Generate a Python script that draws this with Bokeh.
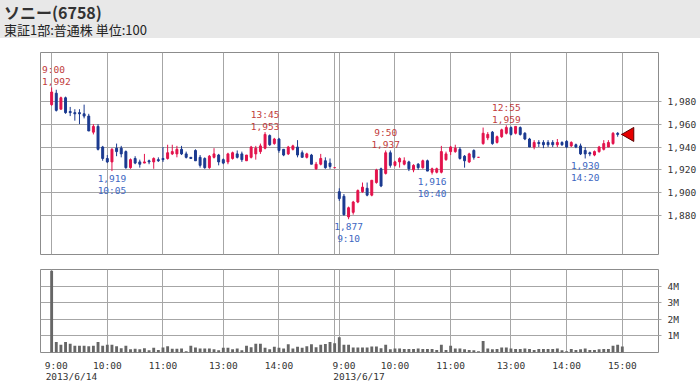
import math
from bokeh.plotting import figure
from bokeh.layouts import column
from bokeh.models import (Range1d, FixedTicker, NumeralTickFormatter, ColumnDataSource,
                          LabelSet, LinearAxis, Div)
from bokeh.core.properties import value
from bokeh.embed import file_html
from bokeh.resources import INLINE

# ---------------- data (5-minute bars, 2013/6/14 and 2013/6/17) ----------------
opens = [1977, 1987, 1973, 1983, 1971, 1970, 1970, 1969, 1967, 1953,
         1958, 1940, 1930, 1927, 1939, 1939, 1936, 1922, 1930, 1927,
         1926, 1928, 1927, 1929, 1930, 1930, 1934, 1934, 1938, 1934,
         1931, 1937, 1931, 1930, 1922, 1931, 1933, 1929, 1927, 1930,
         1934, 1934, 1928, 1931, 1934, 1936, 1939, 1950, 1943, 1947,
         1938, 1934, 1938, 1940, 1935, 1931, 1933, 1921, 1925, 1928,
         1926, 1922,
         1901, 1897, 1879, 1883, 1892, 1901, 1904, 1898, 1909, 1921,
         1917, 1935, 1924, 1927, 1925, 1927, 1920, 1925, 1922, 1928,
         1918, 1918, 1918, 1929, 1936, 1936, 1938, 1932, 1927, 1937,
         1931, 1943, 1948, 1953, 1944, 1949, 1952, 1957, 1952, 1957,
         1952, 1947, 1940, 1944, 1944, 1944, 1944, 1942, 1944, 1945,
         1941, 1942, 1941, 1937, 1935, 1933, 1936, 1938, 1940, 1943,
         1952, 1951]
highs = [1992, 1990, 1984, 1984, 1975, 1973, 1973, 1977, 1969, 1960,
         1960, 1941, 1933, 1939, 1943, 1941, 1937, 1930, 1932, 1929,
         1934, 1929, 1931, 1931, 1940, 1942, 1942, 1941, 1941, 1936,
         1931, 1938, 1933, 1931, 1933, 1939, 1934, 1930, 1935, 1936,
         1937, 1936, 1933, 1941, 1941, 1943, 1953, 1951, 1948, 1948,
         1938, 1941, 1942, 1946, 1937, 1935, 1934, 1927, 1934, 1931,
         1930, 1922,
         1904, 1899, 1888, 1893, 1903, 1909, 1909, 1911, 1921, 1922,
         1937, 1937, 1928, 1931, 1931, 1928, 1925, 1926, 1929, 1929,
         1922, 1922, 1941, 1936, 1941, 1942, 1940, 1933, 1935, 1938,
         1931, 1957, 1953, 1954, 1950, 1956, 1959, 1958, 1958, 1958,
         1953, 1948, 1946, 1946, 1946, 1946, 1946, 1947, 1945, 1946,
         1945, 1943, 1943, 1940, 1936, 1937, 1941, 1946, 1946, 1953,
         1953, 1951]
lows = [1976, 1971, 1973, 1969, 1967, 1963, 1960, 1965, 1954, 1951,
        1937, 1928, 1926, 1919, 1932, 1931, 1921, 1921, 1925, 1922,
        1926, 1925, 1921, 1927, 1927, 1929, 1933, 1931, 1933, 1930,
        1930, 1928, 1922, 1921, 1921, 1930, 1924, 1925, 1925, 1929,
        1930, 1927, 1928, 1930, 1929, 1934, 1938, 1941, 1942, 1935,
        1932, 1933, 1937, 1931, 1931, 1930, 1925, 1920, 1924, 1921,
        1921, 1922,
        1893, 1880, 1877, 1881, 1891, 1900, 1897, 1897, 1908, 1905,
        1916, 1922, 1923, 1922, 1924, 1919, 1918, 1920, 1921, 1919,
        1916, 1917, 1917, 1928, 1933, 1935, 1929, 1922, 1926, 1929,
        1931, 1942, 1946, 1942, 1943, 1948, 1951, 1950, 1951, 1950,
        1946, 1940, 1938, 1940, 1939, 1940, 1940, 1940, 1941, 1939,
        1940, 1939, 1933, 1930, 1932, 1932, 1935, 1937, 1940, 1942,
        1949, 1951]
closes = [1988, 1972, 1983, 1970, 1970, 1969, 1969, 1967, 1954, 1958,
          1938, 1930, 1927, 1938, 1936, 1934, 1922, 1929, 1926, 1925,
          1927, 1927, 1930, 1928, 1929, 1935, 1936, 1938, 1934, 1931,
          1930, 1928, 1924, 1922, 1932, 1934, 1927, 1926, 1934, 1935,
          1931, 1929, 1933, 1940, 1939, 1941, 1951, 1942, 1947, 1937,
          1933, 1940, 1941, 1933, 1931, 1934, 1925, 1925, 1930, 1922,
          1923, 1922,
          1895, 1881, 1887, 1892, 1902, 1905, 1898, 1911, 1920, 1906,
          1935, 1924, 1927, 1930, 1928, 1921, 1924, 1922, 1928, 1919,
          1921, 1921, 1936, 1934, 1940, 1939, 1930, 1928, 1934, 1931,
          1931, 1952, 1951, 1943, 1949, 1955, 1957, 1951, 1958, 1951,
          1947, 1940, 1944, 1943, 1942, 1942, 1942, 1944, 1942, 1940,
          1944, 1940, 1934, 1934, 1934, 1936, 1940, 1943, 1944, 1952,
          1951, 1951]
volume_m = [4.93, 0.64, 0.47, 0.64, 0.53, 0.41, 0.41, 0.41, 0.38, 0.41,
            0.64, 0.41, 0.47, 0.47, 0.38, 0.26, 0.41, 0.19, 0.23, 0.19,
            0.26, 0.13, 0.28, 0.15, 0.30, 0.38, 0.23, 0.23, 0.24, 0.08,
            0.41, 0.30, 0.24, 0.24, 0.24, 0.19, 0.13, 0.28, 0.28, 0.19,
            0.24, 0.13, 0.41, 0.32, 0.53, 0.53, 0.28, 0.19, 0.34, 0.28,
            0.24, 0.49, 0.24, 0.34, 0.28, 0.38, 0.49, 0.32, 0.47, 0.51,
            0.64, 0.55,
            0.92, 0.47, 0.47, 0.30, 0.30, 0.30, 0.30, 0.36, 0.36, 0.26,
            0.47, 0.19, 0.24, 0.24, 0.21, 0.21, 0.21, 0.24, 0.21, 0.21,
            0.21, 0.15, 0.47, 0.15, 0.41, 0.24, 0.24, 0.19, 0.15, 0.13,
            0.08, 0.70, 0.24, 0.19, 0.21, 0.30, 0.30, 0.24, 0.21, 0.21,
            0.24, 0.21, 0.15, 0.21, 0.21, 0.21, 0.21, 0.24, 0.13, 0.08,
            0.21, 0.15, 0.19, 0.24, 0.15, 0.15, 0.19, 0.21, 0.21, 0.41,
            0.47, 0.36]

# axis ticks (bar index of each hour mark) and their labels
hour_ticks = [0, 12, 24, 37, 49, 61, 62, 74, 86, 99, 111, 123]
time_labels = ["9:00", "10:00", "11:00", "13:00", "14:00", "",
               "9:00", "10:00", "11:00", "13:00", "14:00", "15:00"]
day_start_ticks = [0, 62]
date_labels = ["2013/6/14", "2013/6/17"]
price_ticks = [1880, 1900, 1920, 1940, 1960, 1980]
volume_ticks = [1, 2, 3, 4]
volume_tick_labels = ["1M", "2M", "3M", "4M"]

# swing high / low annotations: bar index, price, time, kind
ann_idx = [0, 13, 46, 64, 72, 82, 98, 115]
ann_price = [1992, 1919, 1953, 1877, 1937, 1916, 1959, 1930]
ann_time = ["9:00", "10:05", "13:45", "9:10", "9:50", "10:40", "12:55", "14:20"]
ann_kind = ["high", "low", "high", "low", "high", "low", "high", "low"]

title_text = "ソニー(6758)"
subtitle_text = "東証1部:普通株 単位:100"

# ---------------- styles ----------------
UP = "#e3134c"
DOWN = "#1b3a90"
GRID = "#a6a6a6"
OUTLINE = "#8c8c8c"
MONO = "DejaVu Sans Mono"
FS = "9.5px"
CHAR_W = 5.72          # advance of one mono character at FS
TXT = "#333333"
HEAD_BG = "#e8e8e8"
HI_TXT = "#bf3b3b"
LO_TXT = "#3d67c2"

FRAME_L, FRAME_W = 40, 618
xr = Range1d(-2.4, 130.8)
PX_PER_BAR = FRAME_W / (xr.end - xr.start)

idx = list(range(len(opens)))
colors = [UP if c >= o else DOWN for o, c in zip(opens, closes)]
src = ColumnDataSource(dict(
    x=idx, o=opens, h=highs, l=lows, c=closes,
    top=[max(o, c) for o, c in zip(opens, closes)],
    bot=[min(o, c) for o, c in zip(opens, closes)],
    col=colors, vol=volume_m))

# ---------------- header ----------------
head = Div(text=(
    f'<div style="padding-left:4px;color:#333;font-family:\'Noto Sans CJK JP\';">'
    f'<div style="font-size:16px;font-weight:bold;line-height:24px;height:21px;">{title_text}</div>'
    f'<div style="font-size:13px;line-height:17px;height:17px;color:#222;">{subtitle_text}</div></div>'),
    width=700, height=38, margin=(0, 0, 0, 0),
    styles={"background-color": HEAD_BG, "overflow": "hidden"})

# ---------------- price panel ----------------
main = figure(width=700, height=224, x_range=xr, y_range=Range1d(1846.2, 2022.5),
              output_backend="svg", toolbar_location=None, title=None,
              x_axis_location=None, y_axis_location="right",
              min_border_left=FRAME_L, min_border_right=42, min_border_top=14, min_border_bottom=8)
main.outline_line_color = OUTLINE
main.xgrid.ticker = FixedTicker(ticks=hour_ticks)
main.grid.grid_line_color = GRID
main.yaxis.ticker = FixedTicker(ticks=price_ticks)
main.yaxis.formatter = NumeralTickFormatter(format="0,0")
main.yaxis.axis_line_color = None
main.yaxis.major_tick_in = 0
main.yaxis.major_tick_out = 3
main.yaxis.major_tick_line_color = GRID
main.yaxis.minor_tick_line_color = None
main.yaxis.major_label_standoff = 6
main.yaxis.major_label_text_font = MONO
main.yaxis.major_label_text_font_size = FS
main.yaxis.major_label_text_color = TXT

main.segment(x0="x", y0="l", x1="x", y1="h", source=src, line_color="col", line_width=1)
main.vbar(x="x", width=0.42, top="top", bottom="bot", source=src,
          fill_color="col", line_color="col", line_width=1)

# last price marker
main.scatter(x=[idx[-1] + 1.6], y=[closes[-1]], marker="triangle", size=14, angle=math.pi / 2,
             fill_color="#e60000", line_color="#5a0000", line_width=1)

# swing annotations (nudged so that none is cut by the frame edge)
def pick(seq, kind):
    return [seq[k] for k in range(len(ann_idx)) if ann_kind[k] == kind]

def nudge(xs, texts):
    out = []
    for x, t in zip(xs, texts):
        left = FRAME_L + (x - xr.start) * PX_PER_BAR - len(t) * CHAR_W / 2
        out.append(max(0.0, FRAME_L + 1.5 - left))
    return out

for kind, color, off_p, off_t in (("high", HI_TXT, 6, 18), ("low", LO_TXT, -7, -19)):
    xs = pick(ann_idx, kind)
    ptxt = [f"{v:,}" for v in pick(ann_price, kind)]
    ttxt = pick(ann_time, kind)
    asrc = ColumnDataSource(dict(x=xs, y=pick(ann_price, kind), p=ptxt, t=ttxt,
                                 dxp=nudge(xs, ptxt), dxt=nudge(xs, ttxt)))
    for col, dx, off in (("p", "dxp", off_p), ("t", "dxt", off_t)):
        main.add_layout(LabelSet(x="x", y="y", text=col, source=asrc, x_offset=dx, y_offset=off,
                                 text_font=value(MONO), text_font_size=value(FS),
                                 text_color=value(color),
                                 text_align="center", text_baseline="middle"))

# ---------------- volume panel ----------------
vol = figure(width=700, height=122, x_range=xr, y_range=Range1d(0, 5.0),
             output_backend="svg", toolbar_location=None, title=None,
             y_axis_location="right",
             min_border_left=FRAME_L, min_border_right=42, min_border_top=7, min_border_bottom=27)
vol.outline_line_color = OUTLINE
vol.grid.grid_line_color = GRID
vol.xgrid.ticker = FixedTicker(ticks=hour_ticks)

# time labels: day-start labels sit slightly right of their grid line (as in the original)
time_pos = [t + (1.0 if t in day_start_ticks else 0.0) for t, s in zip(hour_ticks, time_labels) if s]
time_txt = [s for s in time_labels if s]
vol.xaxis.ticker = FixedTicker(ticks=time_pos)
vol.xaxis.major_label_overrides = {t: s for t, s in zip(time_pos, time_txt)}
vol.xaxis.axis_line_color = None
vol.xaxis.major_tick_line_color = None
vol.xaxis.major_tick_in = 0
vol.xaxis.major_tick_out = 0
vol.xaxis.minor_tick_line_color = None
vol.xaxis.major_label_standoff = 7
vol.xaxis.major_label_text_font = MONO
vol.xaxis.major_label_text_font_size = FS
vol.xaxis.major_label_text_color = TXT

# dates: left edge a few pixels left of the day's first grid line
date_pos = [t + (len(s) * CHAR_W / 2 - 6) / PX_PER_BAR for t, s in zip(day_start_ticks, date_labels)]
date_axis = LinearAxis(ticker=FixedTicker(ticks=date_pos),
                       major_label_overrides={t: s for t, s in zip(date_pos, date_labels)})
date_axis.axis_line_color = None
date_axis.major_tick_line_color = None
date_axis.major_tick_in = 0
date_axis.major_tick_out = 0
date_axis.minor_tick_line_color = None
date_axis.major_label_standoff = -3
date_axis.major_label_text_font = MONO
date_axis.major_label_text_font_size = FS
date_axis.major_label_text_color = TXT
vol.add_layout(date_axis, "below")

vol.yaxis.ticker = FixedTicker(ticks=volume_ticks)
vol.yaxis.major_label_overrides = {t: s for t, s in zip(volume_ticks, volume_tick_labels)}
vol.yaxis.axis_line_color = None
vol.yaxis.major_tick_in = 0
vol.yaxis.major_tick_out = 3
vol.yaxis.major_tick_line_color = GRID
vol.yaxis.minor_tick_line_color = None
vol.yaxis.major_label_standoff = 6
vol.yaxis.major_label_text_font = MONO
vol.yaxis.major_label_text_font_size = FS
vol.yaxis.major_label_text_color = TXT

vol.vbar(x="x", width=0.62, top="vol", bottom=0, source=src, fill_color="#666666", line_color=None)

layout = column(head, main, vol, spacing=0)
open("out.html", "w").write(file_html(layout, INLINE))
